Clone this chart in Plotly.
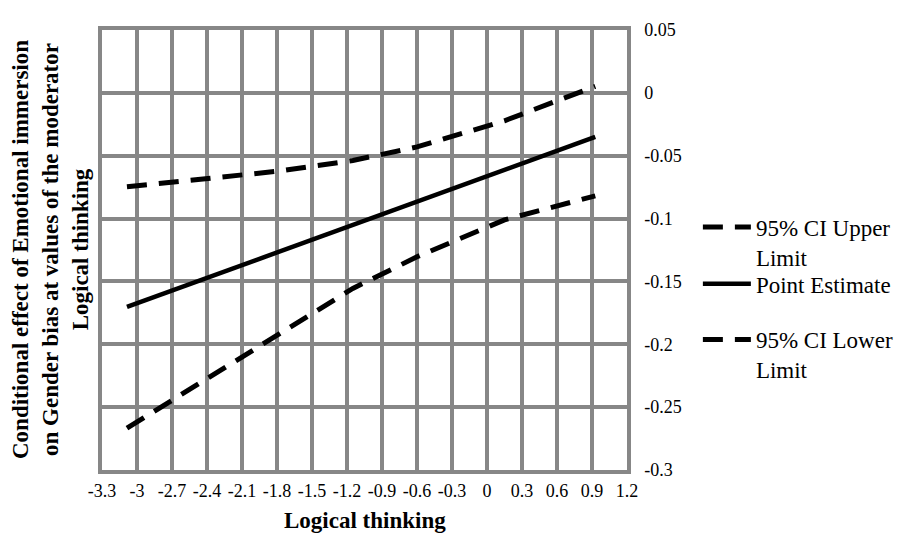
import plotly.graph_objects as go

# ---- data ----
x_vals = [-3.086, -2.43, -1.8, -1.15, -0.6, 0.15, 0.928]
upper_ci = [-0.0747, -0.0689, -0.0624, -0.0538, -0.0430, -0.0222, 0.0052]
point_est = [-0.1703, -0.1482, -0.1270, -0.1051, -0.0866, -0.0613, -0.0350]
lower_ci = [-0.2667, -0.2288, -0.1926, -0.1556, -0.1304, -0.1010, -0.0819]

x_ticks = [-3.3, -3.0, -2.7, -2.4, -2.1, -1.8, -1.5, -1.2, -0.9, -0.6, -0.3, 0.0, 0.3, 0.6, 0.9, 1.2]
x_ticktext = ["-3.3", "-3", "-2.7", "-2.4", "-2.1", "-1.8", "-1.5", "-1.2", "-0.9", "-0.6", "-0.3", "0", "0.3", "0.6", "0.9", "1.2"]
y_ticks = [-0.3, -0.25, -0.2, -0.15, -0.1, -0.05, 0.0, 0.05]
y_ticktext = ["-0.3", "-0.25", "-0.2", "-0.15", "-0.1", "-0.05", "0", "0.05"]

series_names = ["95% CI Upper<br>Limit", "Point Estimate", "95% CI Lower<br>Limit"]

FONT = "Liberation Serif"
GRID = "#878787"

fig = go.Figure()
fig.add_trace(go.Scatter(x=x_vals, y=upper_ci, mode="lines", name=series_names[0], legend="legend",
                         line=dict(color="black", width=5, dash="20px,12px")))
fig.add_trace(go.Scatter(x=x_vals, y=point_est, mode="lines", name=series_names[1], legend="legend2",
                         line=dict(color="black", width=4.5)))
fig.add_trace(go.Scatter(x=x_vals, y=lower_ci, mode="lines", name=series_names[2], legend="legend3",
                         line=dict(color="black", width=5, dash="20px,12px")))

leg_common = dict(x=1.135, xanchor="left", yanchor="top",
                  font=dict(family=FONT, size=23, color="black"),
                  valign="top", itemwidth=48, bgcolor="rgba(0,0,0,0)")

# page body has an 8px margin, so the figure is drawn 8px smaller and offset
fig.update_layout(
    width=914, height=531,
    margin=dict(l=94, r=295, t=12, b=69),
    paper_bgcolor="white", plot_bgcolor="white",
    font=dict(family=FONT, color="black", size=18),
    showlegend=True,
    legend=dict(y=0.601, **leg_common),
    legend2=dict(y=0.472, **leg_common),
    legend3=dict(y=0.3456, **leg_common),
    xaxis=dict(range=[-3.3, 1.2], tickmode="array", tickvals=x_ticks, ticktext=x_ticktext,
               showgrid=True, gridcolor=GRID, gridwidth=3.5, zeroline=False,
               showline=True, linecolor=GRID, linewidth=3.5, mirror=True,
               ticks="", ticklabelstandoff=2,
               tickfont=dict(family=FONT, size=18, color="black")),
    yaxis=dict(range=[-0.3, 0.05], side="right", tickmode="array", tickvals=y_ticks, ticktext=y_ticktext,
               showgrid=True, gridcolor=GRID, gridwidth=3.5, zeroline=False,
               showline=True, linecolor=GRID, linewidth=3.5, mirror=True,
               ticks="", ticklabelstandoff=10,
               tickfont=dict(family=FONT, size=18, color="black")),
)

fig.add_annotation(
    text="<b>Conditional effect of Emotional immersion<br>on Gender bias at values of the moderator<br>Logical thinking</b>",
    xref="paper", yref="paper", x=-0.099, y=0.5, xanchor="center", yanchor="middle",
    textangle=-90, showarrow=False, align="center",
    font=dict(family=FONT, size=23, color="black"))

fig.add_annotation(
    text="<b>Logical thinking</b>",
    xref="paper", yref="paper", x=0.5, y=-0.1156, xanchor="center", yanchor="middle",
    showarrow=False, font=dict(family=FONT, size=23, color="black"))

fig.write_html("out.html")
